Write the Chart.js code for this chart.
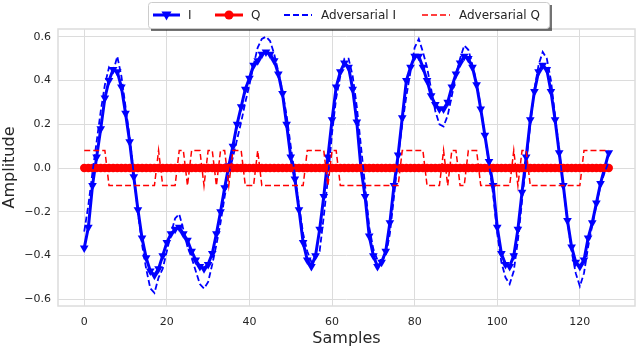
<!DOCTYPE html>
<html>
<head>
<meta charset="utf-8">
<script src="https://cdn.jsdelivr.net/npm/chart.js@4.4.1/dist/chart.umd.min.js"></script>
<style>
  body { margin: 0; background: #fff; }
  #wrap { width: 640px; height: 348px; }
</style>
</head>
<body>
<div id="wrap"><canvas id="main-chart" width="640" height="348"></canvas></div>
<script>
// values, one per sample (0..127)
var seriesI = [
    -0.365, -0.27, -0.08, 0.05, 0.18, 0.32, 0.40, 0.45, 0.44, 0.37,
    0.25, 0.12, -0.04, -0.19, -0.32, -0.41, -0.47, -0.49, -0.46, -0.40,
    -0.34, -0.30, -0.28, -0.27, -0.30, -0.33, -0.38, -0.42, -0.45, -0.46,
    -0.44, -0.39, -0.30, -0.20, -0.09, 0.01, 0.10, 0.20, 0.28, 0.36,
    0.41, 0.47, 0.49, 0.52, 0.53, 0.52, 0.49, 0.43, 0.34, 0.20,
    0.05, -0.05, -0.19, -0.34, -0.42, -0.45, -0.40, -0.28, -0.13, 0.05,
    0.22, 0.37, 0.44, 0.48, 0.46, 0.36, 0.21, 0.00, -0.13, -0.31,
    -0.40, -0.45, -0.43, -0.38, -0.25, -0.08, 0.06, 0.23, 0.40, 0.46,
    0.51, 0.51, 0.46, 0.40, 0.33, 0.29, 0.27, 0.27, 0.30, 0.37,
    0.43, 0.48, 0.51, 0.50, 0.46, 0.38, 0.27, 0.15, 0.03, -0.08,
    -0.27, -0.39, -0.44, -0.45, -0.40, -0.28, -0.11, 0.05, 0.22, 0.35,
    0.44, 0.47, 0.45, 0.35, 0.22, 0.07, -0.08, -0.24, -0.36, -0.43,
    -0.45, -0.42, -0.32, -0.25, -0.16, -0.07, 0.00, 0.07
];
var seriesQ = [
    0, 0, 0, 0, 0, 0, 0, 0, 0, 0, 0, 0, 0, 0, 0, 0,
    0, 0, 0, 0, 0, 0, 0, 0, 0, 0, 0, 0, 0, 0, 0, 0,
    0, 0, 0, 0, 0, 0, 0, 0, 0, 0, 0, 0, 0, 0, 0, 0,
    0, 0, 0, 0, 0, 0, 0, 0, 0, 0, 0, 0, 0, 0, 0, 0,
    0, 0, 0, 0, 0, 0, 0, 0, 0, 0, 0, 0, 0, 0, 0, 0,
    0, 0, 0, 0, 0, 0, 0, 0, 0, 0, 0, 0, 0, 0, 0, 0,
    0, 0, 0, 0, 0, 0, 0, 0, 0, 0, 0, 0, 0, 0, 0, 0,
    0, 0, 0, 0, 0, 0, 0, 0, 0, 0, 0, 0, 0, 0, 0, 0
];
var advI = [
    -0.29, -0.17, -0.02, 0.12, 0.26, 0.38, 0.46, 0.44, 0.51, 0.42,
    0.28, 0.14, -0.03, -0.20, -0.35, -0.46, -0.55, -0.57, -0.50, -0.46,
    -0.38, -0.30, -0.23, -0.21, -0.28, -0.36, -0.41, -0.47, -0.53, -0.55,
    -0.52, -0.44, -0.35, -0.25, -0.13, -0.03, 0.05, 0.13, 0.21, 0.30,
    0.38, 0.47, 0.55, 0.59, 0.60, 0.58, 0.52, 0.44, 0.35, 0.24,
    0.10, -0.03, -0.17, -0.30, -0.38, -0.43, -0.41, -0.38, -0.22, -0.05,
    0.16, 0.32, 0.42, 0.50, 0.50, 0.42, 0.28, 0.10, -0.08, -0.27,
    -0.37, -0.42, -0.42, -0.40, -0.30, -0.13, 0.05, 0.20, 0.33, 0.44,
    0.55, 0.59, 0.53, 0.46, 0.36, 0.26, 0.20, 0.19, 0.24, 0.33,
    0.42, 0.50, 0.56, 0.54, 0.47, 0.39, 0.28, 0.15, 0.02, -0.12,
    -0.30, -0.43, -0.50, -0.53, -0.47, -0.33, -0.15, 0.02, 0.20, 0.36,
    0.47, 0.53, 0.50, 0.40, 0.24, 0.08, -0.09, -0.24, -0.38, -0.48,
    -0.54, -0.48, -0.36, -0.26, -0.17, -0.08, -0.02, 0.03
];
var advQ = [
    0.08, 0.08, 0.08, 0.08, 0.08, 0.08, -0.08, -0.08, -0.08, -0.08,
    -0.08, -0.08, -0.08, -0.08, -0.08, -0.08, -0.08, -0.08, 0.08, -0.08,
    -0.08, -0.08, -0.08, 0.08, 0.08, -0.08, 0.08, 0.08, 0.08, -0.08,
    0.08, 0.08, -0.08, 0.08, 0.08, -0.08, 0.08, 0.08, 0.08, -0.08,
    -0.08, -0.08, 0.08, -0.08, -0.08, -0.08, -0.08, -0.08, -0.08, -0.08,
    -0.08, -0.08, -0.08, -0.08, 0.08, 0.08, 0.08, 0.08, 0.08, -0.08,
    0.08, 0.08, -0.08, -0.08, -0.08, -0.08, -0.08, -0.08, -0.08, -0.08,
    -0.08, -0.08, -0.08, -0.08, -0.08, -0.08, -0.08, 0.08, 0.08, 0.08,
    0.08, 0.08, 0.08, -0.08, -0.08, -0.08, -0.08, 0.08, -0.08, 0.08,
    0.08, -0.08, -0.08, 0.08, 0.08, 0.08, -0.08, -0.08, -0.08, -0.08,
    -0.08, -0.08, -0.08, -0.08, 0.08, -0.08, 0.08, 0.08, -0.08, -0.08,
    -0.08, -0.08, -0.08, -0.08, -0.08, -0.08, -0.08, -0.08, -0.08, -0.08,
    -0.08, 0.08, 0.08, 0.08, 0.08, 0.08, 0.08, 0.08
];
var xTicks = [0, 20, 40, 60, 80, 100, 120];
var yTicks = [-0.6, -0.4, -0.2, 0.0, 0.2, 0.4, 0.6];

var FONT = "'DejaVu Sans', sans-serif";
var TEXT = '#262626';
var GRID = '#dcdcdc';

function toPoints(arr) {
    return arr.map(function (v, i) { return { x: i, y: v }; });
}

// frame around the plot area (matplotlib spines)
var frame = {
    id: 'frame',
    afterDatasetsDraw: function (chart) {
        var a = chart.chartArea, ctx = chart.ctx;
        ctx.save();
        ctx.strokeStyle = GRID;
        ctx.lineWidth = 1.5;
        ctx.strokeRect(a.left, a.top, a.right - a.left, a.bottom - a.top);
        ctx.restore();
    }
};

// legend box with shadow, drawn like the matplotlib one
var legendBox = {
    id: 'legendBox',
    afterDraw: function (chart) {
        var ctx = chart.ctx;
        var x = 148, y = 2, w = 401, h = 26;
        ctx.save();
        ctx.fillStyle = 'rgba(0,0,0,0.55)';
        ctx.fillRect(x + 3, y + 3, w, h);
        ctx.fillStyle = '#fff';
        ctx.strokeStyle = '#cccccc';
        ctx.lineWidth = 1;
        ctx.beginPath();
        ctx.roundRect(x + 0.5, y + 0.5, w, h, 3);
        ctx.fill();
        ctx.stroke();

        var cy = y + 13;
        var items = [
            { x0: 153, x1: 180, tx: 188, label: 'I', color: '#0000ff', dash: [], lw: 3, marker: 'tri' },
            { x0: 215, x1: 243, tx: 251, label: 'Q', color: '#ff0000', dash: [], lw: 3, marker: 'dot' },
            { x0: 284, x1: 312, tx: 321, label: 'Adversarial I', color: '#0000ff', dash: [6, 3], lw: 1.8 },
            { x0: 422, x1: 450, tx: 459, label: 'Adversarial Q', color: '#ff0000', dash: [6, 3], lw: 1.5 }
        ];
        items.forEach(function (it) {
            ctx.strokeStyle = it.color;
            ctx.lineWidth = it.lw;
            ctx.setLineDash(it.dash);
            ctx.beginPath();
            ctx.moveTo(it.x0, cy);
            ctx.lineTo(it.x1, cy);
            ctx.stroke();
            ctx.setLineDash([]);
            var mx = (it.x0 + it.x1) / 2;
            ctx.fillStyle = it.color;
            if (it.marker === 'tri') {
                ctx.beginPath();
                ctx.moveTo(mx - 5, cy - 3.5);
                ctx.lineTo(mx + 5, cy - 3.5);
                ctx.lineTo(mx, cy + 5.5);
                ctx.closePath();
                ctx.fill();
            } else if (it.marker === 'dot') {
                ctx.beginPath();
                ctx.arc(mx, cy, 4.5, 0, Math.PI * 2);
                ctx.fill();
            }
            ctx.fillStyle = TEXT;
            ctx.font = '12px ' + FONT;
            ctx.textBaseline = 'middle';
            ctx.textAlign = 'left';
            ctx.fillText(it.label, it.tx, cy + 1);
        });
        ctx.restore();
    }
};

var myChart = new Chart(document.querySelector('#main-chart').getContext('2d'), {
    type: 'line',
    data: {
        datasets: [{
            label: 'I',
            data: toPoints(seriesI),
            borderColor: '#0000ff',
            backgroundColor: '#0000ff',
            borderWidth: 3,
            pointStyle: 'triangle',
            rotation: 180,
            pointRadius: 5,
            pointBorderWidth: 0,
            order: 4
        }, {
            label: 'Q',
            data: toPoints(seriesQ),
            borderColor: '#ff0000',
            backgroundColor: '#ff0000',
            borderWidth: 3,
            pointStyle: 'circle',
            pointRadius: 4.2,
            pointBorderWidth: 0,
            order: 3
        }, {
            label: 'Adversarial I',
            data: toPoints(advI),
            borderColor: '#0000ff',
            borderWidth: 1.8,
            borderDash: [6, 3],
            pointRadius: 0,
            order: 2
        }, {
            label: 'Adversarial Q',
            data: toPoints(advQ),
            borderColor: '#ff0000',
            borderWidth: 1.5,
            borderDash: [6, 3],
            pointRadius: 0,
            order: 1
        }]
    },
    options: {
        responsive: false,
        animation: false,
        events: [],
        layout: { padding: { top: 29, right: 2, left: 0, bottom: 0 } },
        plugins: {
            legend: { display: false },
            tooltip: { enabled: false }
        },
        elements: { line: { tension: 0 } },
        scales: {
            x: {
                type: 'linear',
                min: -6.35,
                max: 133.35,
                afterBuildTicks: function (scale) {
                    scale.ticks = xTicks.map(function (v) { return { value: v }; });
                },
                afterFit: function (scale) { scale.height = 42; },
                grid: { color: GRID, lineWidth: 1, drawTicks: false },
                border: { display: false },
                ticks: {
                    color: TEXT,
                    font: { family: FONT, size: 11 },
                    padding: 10,
                    maxRotation: 0,
                    callback: function (v) { return String(v); }
                },
                title: {
                    display: true,
                    text: 'Samples',
                    color: TEXT,
                    font: { family: FONT, size: 16 },
                    padding: { top: 0, bottom: 0 }
                }
            },
            y: {
                min: -0.63,
                max: 0.635,
                afterBuildTicks: function (scale) {
                    scale.ticks = yTicks.map(function (v) { return { value: v }; });
                },
                afterFit: function (scale) { scale.width = 58; },
                grid: { color: GRID, lineWidth: 1, drawTicks: false },
                border: { display: false },
                ticks: {
                    color: TEXT,
                    font: { family: FONT, size: 11 },
                    padding: 7,
                    callback: function (v) {
                        var s = Math.abs(v).toFixed(1);
                        return v < -1e-9 ? '\u2212' + s : s;
                    }
                },
                title: {
                    display: true,
                    text: 'Amplitude',
                    color: TEXT,
                    font: { family: FONT, size: 16 },
                    padding: { top: 0, bottom: 2 }
                }
            }
        }
    },
    plugins: [frame, legendBox]
});
</script>
</body>
</html>
